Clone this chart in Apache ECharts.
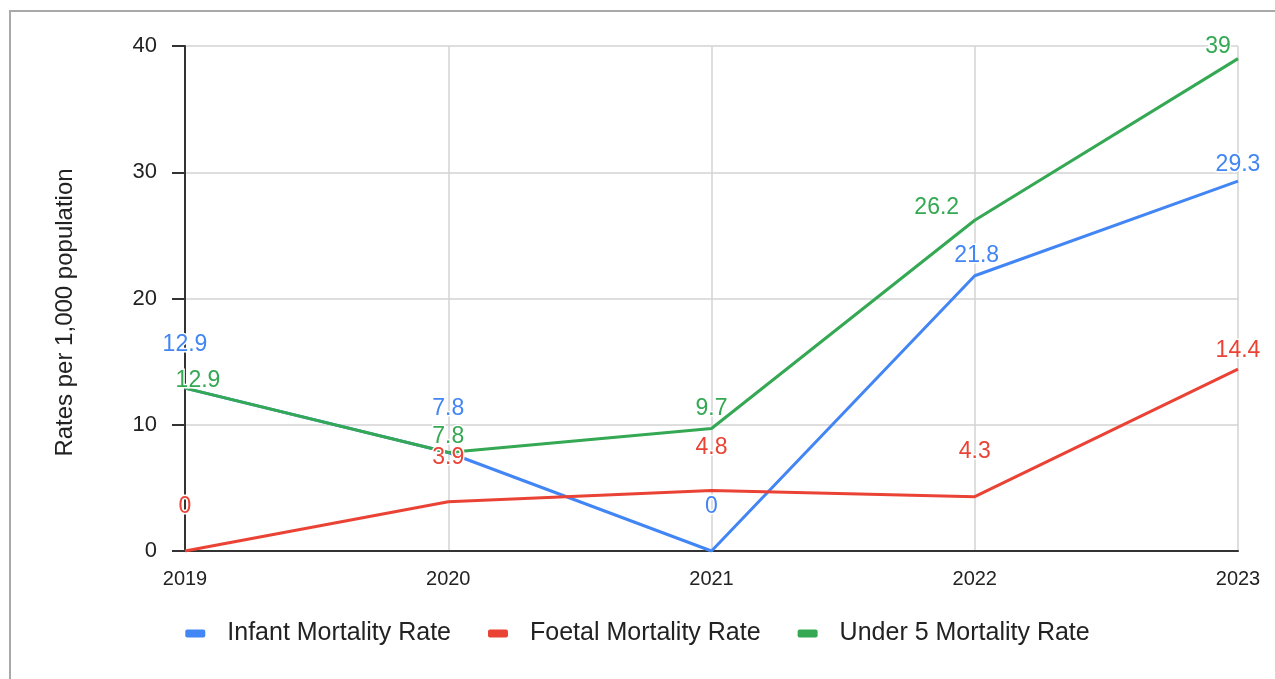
<!DOCTYPE html>
<html>
<head>
<meta charset="utf-8">
<script src="https://cdn.jsdelivr.net/npm/echarts@6/dist/echarts.min.js"></script>
<style>
  html, body { margin: 0; padding: 0; background: #fff; }
  #main { width: 1275px; height: 679px; }
</style>
</head>
<body>
<div id="main"></div>
<script>
var years = ['2019', '2020', '2021', '2022', '2023'];
var infantRate = [12.9, 7.8, 0, 21.8, 29.3];
var foetalRate = [0, 3.9, 4.8, 4.3, 14.4];
var under5Rate = [12.9, 7.8, 9.7, 26.2, 39];
var yTicks = [0, 10, 20, 30, 40];

// label nudges so the numbers sit where the original put them
var infantOffsets = [[0, -43], [0, -44], [0, -44], [2, -20], [0, -16]];
var foetalOffsets = [[0, -44], [0, -44], [0, -43], [0, -45], [0, -19]];
var under5Offsets = [[13, -7], [0, -16], [0, -20], [-38, -13], [-20, -12]];

function buildData(values, offsets) {
    var out = [];
    for (var i = 0; i < values.length; i++) {
        out.push({ value: values[i], label: { offset: offsets[i] } });
    }
    return out;
}

function lineSeries(name, color, values, offsets) {
    return {
        name: name,
        type: 'line',
        data: buildData(values, offsets),
        symbol: 'circle',
        symbolSize: 0.1,
        showSymbol: true,
        lineStyle: { color: color, width: 3 },
        itemStyle: { color: color },
        label: {
            show: true,
            position: 'inside',
            color: color,
            fontFamily: 'Liberation Sans',
            fontSize: 23,
            textBorderColor: '#fff',
            textBorderWidth: 3
        },
        z: 3
    };
}

var chart = echarts.init(document.getElementById('main'));
var opt = {
    animation: false,
    backgroundColor: '#fff',
    textStyle: { fontFamily: 'Liberation Sans' },
    graphic: [{
        type: 'rect',
        shape: { x: 10, y: 11, width: 1290, height: 700 },
        style: { fill: 'none', stroke: '#a9a9a9', lineWidth: 2 },
        silent: true
    }],
    grid: { left: 185, right: 37, top: 46, bottom: 128 },
    legend: {
        bottom: 28,
        left: 'center',
        itemWidth: 20,
        itemHeight: 8,
        itemGap: 37,
        icon: 'roundRect',
        textStyle: { fontSize: 25, color: '#222', fontFamily: 'Liberation Sans', padding: [0, 0, 0, 17] },
        data: ['Infant Mortality Rate', 'Foetal Mortality Rate', 'Under 5 Mortality Rate']
    },
    xAxis: {
        type: 'category',
        data: years,
        boundaryGap: false,
        axisLine: { lineStyle: { color: '#333', width: 2 } },
        axisTick: { show: false },
        axisLabel: { fontSize: 20, color: '#222', margin: 18 },
        splitLine: { show: true, lineStyle: { color: '#d3d3d3', width: 1.5 } }
    },
    yAxis: {
        type: 'value',
        min: yTicks[0],
        max: yTicks[yTicks.length - 1],
        interval: 10,
        name: 'Rates per 1,000 population',
        nameLocation: 'middle',
        nameGap: 108,
        nameTextStyle: { fontSize: 24, color: '#222', padding: [0, 28, 0, 0] },
        axisLine: { show: true, lineStyle: { color: '#333', width: 2 } },
        axisTick: { show: true, length: 13, lineStyle: { color: '#333', width: 2 } },
        axisLabel: { fontSize: 22, color: '#222', margin: 28 },
        splitLine: { show: true, lineStyle: { color: '#d3d3d3', width: 1.5 } }
    },
    series: [
        lineSeries('Infant Mortality Rate', '#4285F4', infantRate, infantOffsets),
        lineSeries('Foetal Mortality Rate', '#EA4335', foetalRate, foetalOffsets),
        lineSeries('Under 5 Mortality Rate', '#34A853', under5Rate, under5Offsets)
    ]
};
chart.setOption(opt);
</script>
</body>
</html>
